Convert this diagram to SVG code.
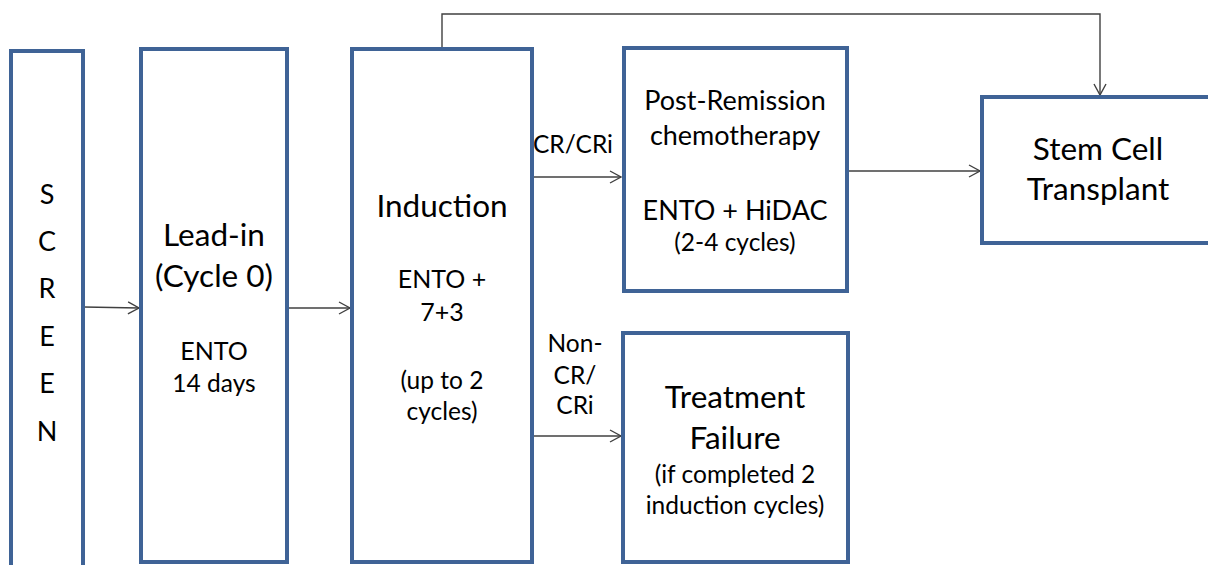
<svg xmlns="http://www.w3.org/2000/svg" width="1208" height="565" viewBox="0 0 1208 565">
  <style>
    .box { fill: #ffffff; stroke: #3f6396; stroke-width: 4; }
    .link { fill: none; stroke: #404040; stroke-width: 1.4; }
    .t { font-family: Lato, "Open Sans", "Liberation Sans", sans-serif; fill: #000000; text-anchor: middle; }
    .big { font-size: 31.5px; }
    .mid { font-size: 27px; }
    .md { font-size: 25px; }
    .sm { font-size: 24.5px; }
  </style>
  <defs>
    <marker id="open" markerUnits="userSpaceOnUse" markerWidth="14" markerHeight="14" refX="12" refY="7" orient="auto">
      <path d="M1,1 L12,7 L1,13" fill="none" stroke="#404040" stroke-width="1.4"/>
    </marker>
  </defs>
  <rect width="1208" height="565" fill="#ffffff"/>

  <g id="connectors">
    <line class="link" x1="84" y1="307" x2="139" y2="308" marker-end="url(#open)"/>
    <line class="link" x1="289" y1="308" x2="350" y2="308" marker-end="url(#open)"/>
    <line class="link" x1="534" y1="177" x2="621" y2="177" marker-end="url(#open)"/>
    <line class="link" x1="534" y1="436" x2="621" y2="436" marker-end="url(#open)"/>
    <line class="link" x1="849" y1="171" x2="980" y2="171" marker-end="url(#open)"/>
    <polyline class="link" points="442,47 442,14 1100,14 1100,95" marker-end="url(#open)"/>
    <text class="t sm" x="573" y="153">CR/CRi</text>
    <text class="t sm" x="575" y="352">Non-</text>
    <text class="t sm" x="575" y="384">CR/</text>
    <text class="t sm" x="575" y="414">CRi</text>
  </g>

  <g id="screen">
    <rect class="box" x="11" y="51" width="72" height="540"/>
    <text class="t mid" x="47" y="204">S</text>
    <text class="t mid" x="47" y="251">C</text>
    <text class="t mid" x="47" y="298">R</text>
    <text class="t mid" x="47" y="346">E</text>
    <text class="t mid" x="47" y="393">E</text>
    <text class="t mid" x="47" y="441">N</text>
  </g>

  <g id="lead-in">
    <rect class="box" x="141" y="49" width="146" height="513"/>
    <text class="t big" x="214" y="246">Lead-in</text>
    <text class="t big" x="214" y="287">(Cycle 0)</text>
    <text class="t md" x="214" y="360">ENTO</text>
    <text class="t sm" x="214" y="392">14 days</text>
  </g>

  <g id="induction">
    <rect class="box" x="352" y="49" width="180" height="513"/>
    <text class="t big" x="442" y="217">Induction</text>
    <text class="t md" x="442" y="288">ENTO +</text>
    <text class="t md" x="442" y="321">7+3</text>
    <text class="t sm" x="442" y="389">(up to 2</text>
    <text class="t sm" x="442" y="420">cycles)</text>
  </g>

  <g id="post-remission">
    <rect class="box" x="624" y="48" width="223" height="243"/>
    <text class="t mid" x="735" y="110">Post-Remission</text>
    <text class="t mid" x="735" y="145">chemotherapy</text>
    <text class="t mid" x="735" y="220">ENTO + HiDAC</text>
    <text class="t sm" x="735" y="251">(2-4 cycles)</text>
  </g>

  <g id="treatment-failure">
    <rect class="box" x="623" y="333" width="225" height="229"/>
    <text class="t big" x="735" y="408">Treatment</text>
    <text class="t big" x="735" y="449">Failure</text>
    <text class="t sm" x="735" y="483">(if completed 2</text>
    <text class="t sm" x="735" y="514">induction cycles)</text>
  </g>

  <g id="stem-cell-transplant">
    <rect class="box" x="982" y="97" width="236" height="146"/>
    <text class="t big" x="1098" y="160">Stem Cell</text>
    <text class="t big" x="1098" y="200">Transplant</text>
  </g>
</svg>
